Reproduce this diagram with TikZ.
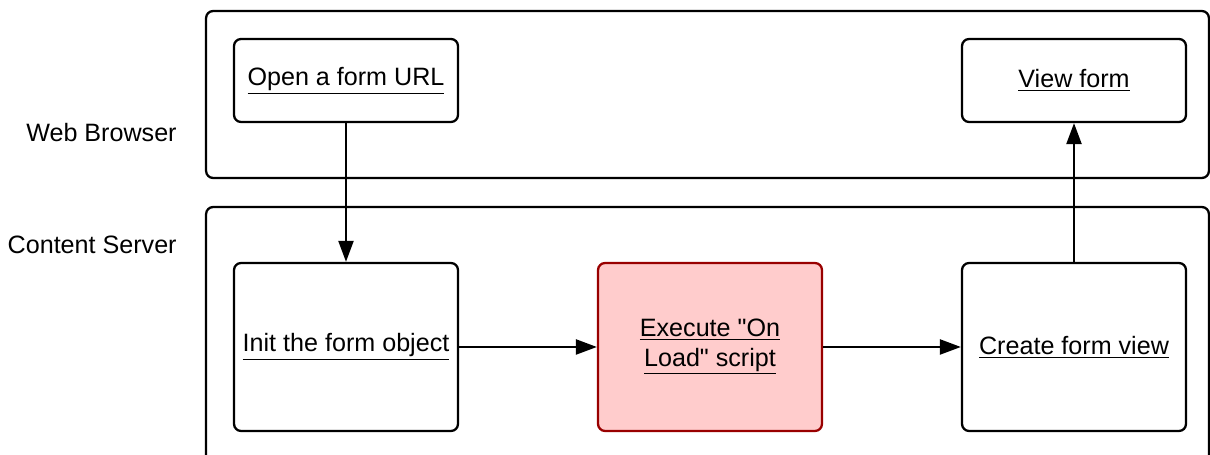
\documentclass[tikz,border=0pt]{standalone}
\usepackage{fontspec}
\setmainfont{Liberation Sans}
\usepackage{xcolor}
\usetikzlibrary{arrows.meta,positioning}
\definecolor{scriptfill}{HTML}{FFCCCC}
\definecolor{scriptdraw}{HTML}{990000}
\tikzset{
  lane/.style={draw, line width=1.3pt, rounded corners=4pt, minimum width=20.06cm},
  task/.style={draw, line width=1.3pt, rounded corners=4pt, align=center,
    minimum width=4.48cm, inner sep=0pt, font=\fontsize{14.3}{16.8}\selectfont},
  flow/.style={-{Triangle[length=0.42cm,width=0.3cm]}, line width=1.3pt},
  lanelabel/.style={anchor=east, inner sep=0pt, font=\fontsize{14.3}{16.8}\selectfont},
}

\begin{document}
\begin{tikzpicture}[x=0.02cm,y=-0.02cm]
        \clip (0,0) rectangle (1210,455);
        \node[lane, minimum height=3.34cm] (web) at (707.5,94.5) {};
        \node[lane, minimum height=5.46cm] (server) at (707.5,343.5) {};
        \node[lanelabel] (weblabel) at (177,133) {Web Browser};
        \node[lanelabel] (serverlabel) at (177,245) {Content Server};

        \node[task, minimum height=1.66cm] (open) at (346,80.5) {\underline{Open a form URL}};
        \node[task, minimum height=1.66cm] (view) at (1074,80.5) {\underline{View form}};
        \node[task, minimum height=3.36cm] (init) at (346,347) {\underline{Init the form object}};
        \node[task, minimum height=3.36cm, fill=scriptfill, draw=scriptdraw] (exec) at (710,347)
            {\underline{Execute \textquotedbl On}\\\underline{Load\textquotedbl{} script}};
        \node[task, minimum height=3.36cm] (create) at (1074,347) {\underline{Create form view}};

        \draw[flow] (open) -- (init);
        \draw[flow] (init) -- (exec);
        \draw[flow] (exec) -- (create);
        \draw[flow] (create) -- (view);
\end{tikzpicture}
\end{document}
